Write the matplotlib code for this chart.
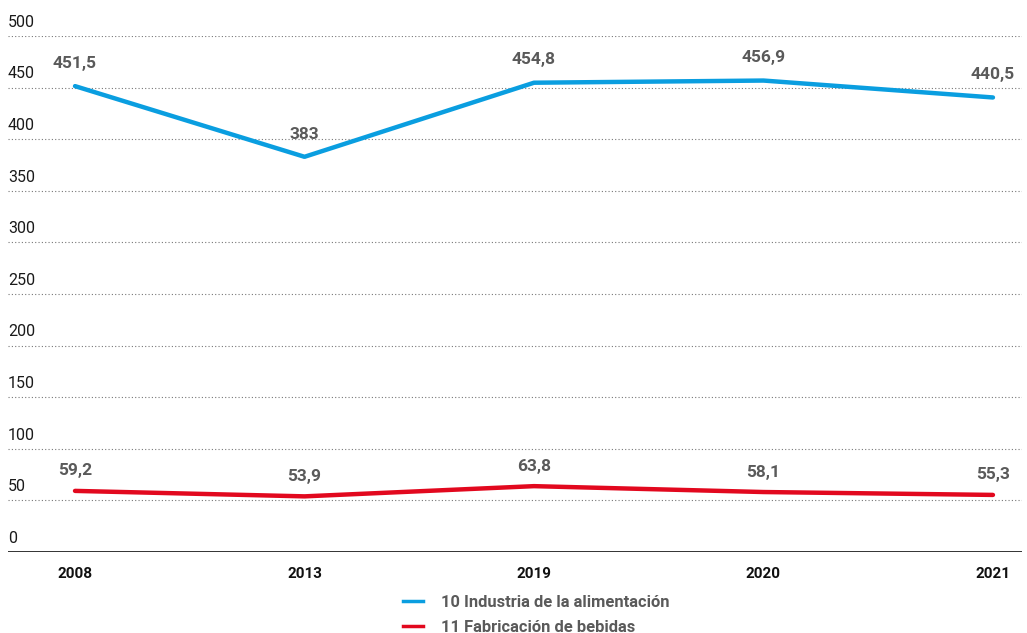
import numpy as np
import matplotlib
matplotlib.use("Agg")
import matplotlib.pyplot as plt
from matplotlib.lines import Line2D

plt.rcParams['font.family'] = ['Roboto', 'DejaVu Sans']

years = ['2008', '2013', '2019', '2020', '2021']
alimentacion = [451.5, 383, 454.8, 456.9, 440.5]
bebidas = [59.2, 53.9, 63.8, 58.1, 55.3]
series_names = ['10 Industria de la alimentación', '11 Fabricación de bebidas']
y_ticks = [0, 50, 100, 150, 200, 250, 300, 350, 400, 450, 500]

BLUE = '#0a9ee0'
RED = '#e2081e'
LABEL_GREY = '#5a5a5a'


def fmt(v):
    # decimal comma, no trailing ",0"
    s = f"{v:.1f}".replace('.', ',')
    return s[:-2] if s.endswith(',0') else s


fig = plt.figure(figsize=(10.27, 6.33), dpi=100)
ax = fig.add_axes([0.0078, 0.128, 0.9872, 0.815])

x = np.arange(len(years))
ax.plot(x, alimentacion, color=BLUE, lw=3.2, solid_capstyle='round', zorder=3)
ax.plot(x, bebidas, color=RED, lw=3.2, solid_capstyle='round', zorder=3)

for xi, v in zip(x, alimentacion):
    ax.annotate(fmt(v), (xi, v), xytext=(0, 11), textcoords='offset points',
                ha='center', va='bottom', fontsize=12.5, fontweight='bold',
                color=LABEL_GREY)
for xi, v in zip(x, bebidas):
    ax.annotate(fmt(v), (xi, v), xytext=(0, 9), textcoords='offset points',
                ha='center', va='bottom', fontsize=12.5, fontweight='bold',
                color=LABEL_GREY)

ax.set_xlim(-0.292, 4.126)
ax.set_ylim(0, 500)

# dotted gridlines with value labels sitting above them
for t in y_ticks:
    if t > 0:
        ax.axhline(t, color='#777777', lw=0.8, ls=(0, (1, 2)), zorder=1)
    ax.text(0.0, t + 6, str(t), transform=ax.get_yaxis_transform(),
            ha='left', va='bottom', fontsize=11.5, color='#1a1a1a')

ax.axhline(0, color='#111111', lw=1.2, zorder=2)

ax.set_xticks(x)
ax.set_xticklabels(years, fontsize=11, fontweight='bold', color='#111111')
ax.tick_params(axis='x', length=0, pad=11)
ax.set_yticks([])
for s in ax.spines.values():
    s.set_visible(False)

handles = [Line2D([0], [0], color=BLUE, lw=2.5),
           Line2D([0], [0], color=RED, lw=2.5)]
leg = fig.legend(handles, series_names, loc='upper left',
                 bbox_to_anchor=(0.378, 0.084), frameon=False,
                 handlelength=1.2, handletextpad=1.1, labelspacing=0.6,
                 prop={'size': 11.9, 'weight': 'bold'})
for t in leg.get_texts():
    t.set_color(LABEL_GREY)

fig.savefig('out.png', dpi=100)
